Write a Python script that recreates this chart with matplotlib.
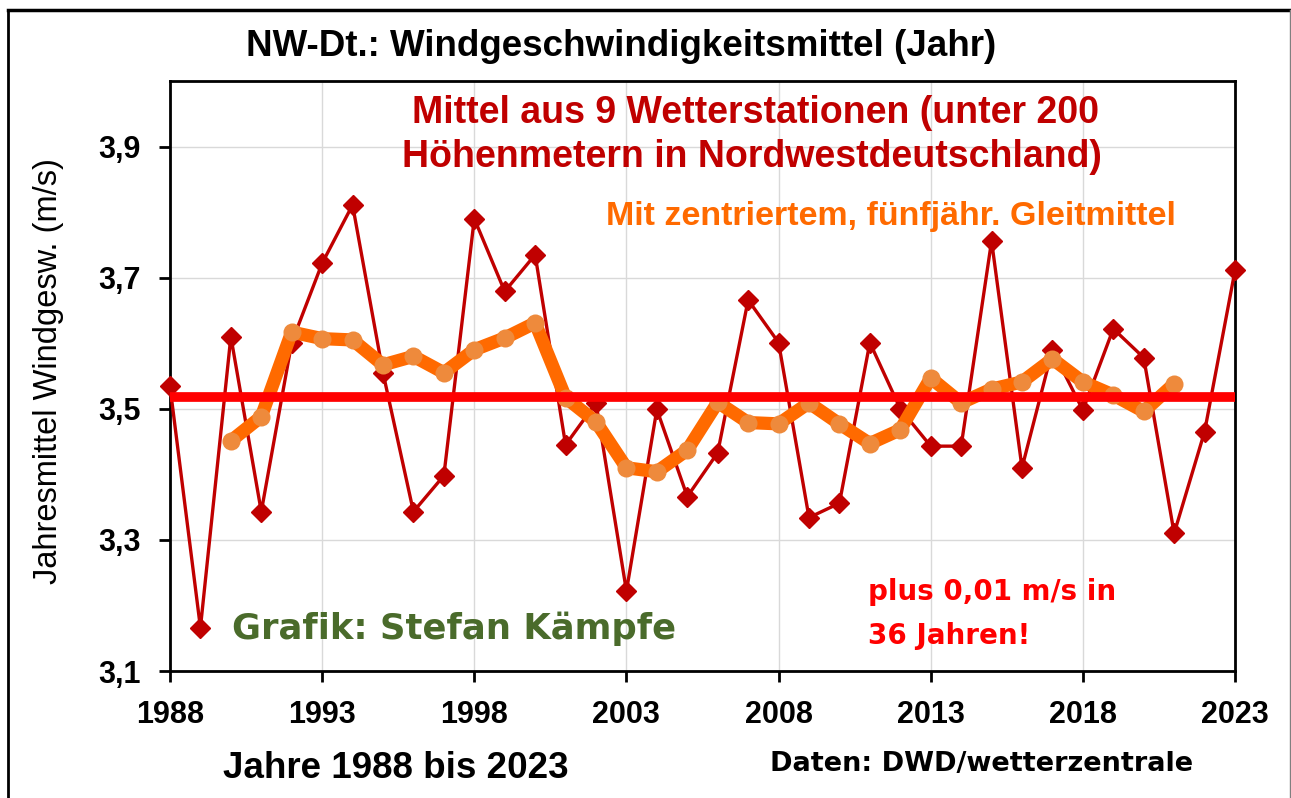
import matplotlib
matplotlib.use("Agg")
import matplotlib.pyplot as plt
from matplotlib.lines import Line2D
from matplotlib.ticker import FuncFormatter

years = list(range(1988, 2024))
wind = [3.534, 3.166, 3.610, 3.343, 3.601, 3.722, 3.811, 3.555, 3.343, 3.398,
        3.790, 3.679, 3.735, 3.445, 3.509, 3.222, 3.499, 3.366, 3.433, 3.666,
        3.601, 3.334, 3.356, 3.601, 3.500, 3.443, 3.443, 3.756, 3.410, 3.590,
        3.498, 3.622, 3.578, 3.310, 3.465, 3.711]
ma_years = list(range(1990, 2022))
ma_vals = [3.451, 3.488, 3.617, 3.607, 3.605, 3.567, 3.580, 3.555, 3.590, 3.608,
           3.631, 3.517, 3.480, 3.410, 3.404, 3.437, 3.510, 3.479, 3.477, 3.509,
           3.477, 3.447, 3.468, 3.547, 3.509, 3.530, 3.541, 3.576, 3.541, 3.521,
           3.496, 3.538]
mean_val = 3.518
xticks = [1988, 1993, 1998, 2003, 2008, 2013, 2018, 2023]
yticks = [3.1, 3.3, 3.5, 3.7, 3.9]

W, H = 1291, 798
fig = plt.figure(figsize=(W / 100, H / 100), dpi=100)
ax = fig.add_axes([170 / W, 1 - 671 / H, (1235 - 170) / W, (671 - 81) / H])

ax.set_xlim(1988, 2023)
ax.set_ylim(3.1, 4.0)
ax.set_xticks(xticks)
ax.set_yticks(yticks)
ax.yaxis.set_major_formatter(FuncFormatter(lambda v, p: f"{v:.1f}".replace(".", ",")))
ax.grid(True, color="#d9d9d9", linewidth=1.0, zorder=0)
ax.set_axisbelow(True)
for s in ax.spines.values():
    s.set_linewidth(2.0)
    s.set_color("black")
ax.tick_params(axis="both", direction="out", length=8, width=2, labelsize=22)
ax.tick_params(axis="x", pad=13)
ax.tick_params(axis="y", pad=13)
for lab in ax.get_xticklabels() + ax.get_yticklabels():
    lab.set_fontfamily("Liberation Sans")
    lab.set_fontweight("bold")

ax.plot(years, wind, color="#c00000", linewidth=2.4, marker="D", markersize=10,
        markerfacecolor="#c00000", markeredgecolor="#c00000", zorder=3, clip_on=False)
ax.plot(ma_years, ma_vals, color="#ff6a00", linewidth=9.5, solid_capstyle="round",
        solid_joinstyle="round", marker="o", markersize=13, markerfacecolor="#ee8a3c",
        markeredgecolor="none", zorder=4)
ax.axhline(mean_val, color="#ff0000", linewidth=7, zorder=5)

fam = "Liberation Sans"
fig.text(621 / W, 1 - 47 / H, "NW-Dt.: Windgeschwindigkeitsmittel (Jahr)", ha="center", va="center",
         fontsize=26.5, fontweight="bold", family=fam)
fig.text(49 / W, 1 - 371 / H, "Jahresmittel Windgesw. (m/s)", rotation=90, ha="center", va="center",
         fontsize=23.5, family=fam)
fig.text(396 / W, 1 - 768 / H, "Jahre 1988 bis 2023", ha="center", va="center",
         fontsize=26.5, fontweight="bold", family=fam)
fig.text(755 / W, 1 - 113 / H, "Mittel aus 9 Wetterstationen (unter 200", ha="center", va="center",
         fontsize=27, fontweight="bold", family=fam, color="#c00000")
fig.text(752 / W, 1 - 157 / H, "Höhenmetern in Nordwestdeutschland)", ha="center", va="center",
         fontsize=27, fontweight="bold", family=fam, color="#c00000")
fig.text(891 / W, 1 - 216 / H, "Mit zentriertem, fünfjähr. Gleitmittel", ha="center", va="center",
         fontsize=24.5, fontweight="bold", family=fam, color="#ff6a00")
fig.text(868 / W, 1 - 592 / H, "plus 0,01 m/s in", ha="left", va="center",
         fontsize=20, fontweight="bold", family="DejaVu Sans", color="#ff0000")
fig.text(868 / W, 1 - 636 / H, "36 Jahren!", ha="left", va="center",
         fontsize=20, fontweight="bold", family="DejaVu Sans", color="#ff0000")
fig.text(232 / W, 1 - 629 / H, "Grafik: Stefan Kämpfe", ha="left", va="center",
         fontsize=25.5, fontweight="bold", family="DejaVu Sans", color="#4a6b2b")
fig.text(770 / W, 1 - 764 / H, "Daten: DWD/wetterzentrale", ha="left", va="center",
         fontsize=19.5, fontweight="bold", family="DejaVu Sans", color="black")

# outer frame
fig.add_artist(Line2D([8 / W, 8 / W], [0, 1 - 10 / H], transform=fig.transFigure, color="black", linewidth=2))
fig.add_artist(Line2D([8 / W, 1290 / W], [1 - 10 / H, 1 - 10 / H], transform=fig.transFigure, color="black", linewidth=2.5))
fig.add_artist(Line2D([1289.5 / W, 1289.5 / W], [0, 1 - 10 / H], transform=fig.transFigure, color="#808080", linewidth=1))

fig.savefig("out.png", dpi=100)
